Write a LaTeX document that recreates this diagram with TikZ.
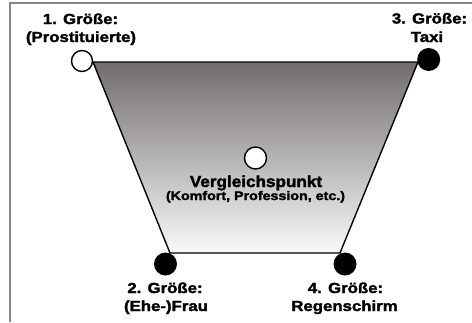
\documentclass[tikz,border=0pt]{standalone}
\usepackage{fontspec}
\setmainfont{Liberation Sans}[BoldFeatures={FakeStretch=1.15,FakeBold=2}]
\newfontfamily\titlefont{Liberation Sans}[UprightFont=*-Bold,UprightFeatures={FakeStretch=1.07,FakeBold=2}]
\begin{document}
\begin{tikzpicture}[x=1pt,y=-1pt,
  frameline/.style={draw=black!48,line width=2pt},
  edge/.style={draw=black,line width=1.4pt,line join=round},
  opendot/.style={circle,draw=black,fill=white,line width=1.4pt,inner sep=0pt,minimum size=21pt},
  fulldot/.style={circle,fill=black,inner sep=0pt,minimum size=23pt},
  lbl/.style={anchor=base,inner sep=0pt,font=\bfseries\fontsize{14.6}{17}\selectfont},
  title/.style={anchor=base,inner sep=0pt,font=\titlefont\fontsize{16}{18}\selectfont},
  subtitle/.style={anchor=base,inner sep=0pt,font=\bfseries\fontsize{12.4}{15}\selectfont}]
\useasboundingbox (0,0) rectangle (472,322);
% border along the top and left sides
\coordinate (fb) at (10,322);
\coordinate (fc) at (10,3);
\coordinate (fr) at (472,3);
\draw[frameline] (fb) -- (fc) -- (fr);
% trapezoid corners
\coordinate (tl) at (93,62);
\coordinate (tr) at (418,62);
\coordinate (br) at (340,253);
\coordinate (bl) at (170,253);
\shade[top color={rgb,255:red,114;green,109;blue,109},bottom color={rgb,255:red,249;green,249;blue,249}]
  (tl) -- (tr) -- (br) -- (bl) -- cycle;
\draw[edge] (tl) -- (tr) -- (br) -- (bl) -- cycle;
% vertices
\node[opendot] (g1) at (82,61) {};
\node[fulldot] (g3) at (428.7,59.5) {};
\node[fulldot] (g2) at (165.5,264) {};
\node[fulldot] (g4) at (345,264) {};
\node[opendot,minimum size=22pt] (vp) at (255.5,158) {};
% labels
\node[lbl] (l1a) at (80.5,24) {1. Größe:};
\node[lbl] (l1b) at (81,42) {(Prostituierte)};
\node[lbl] (l3a) at (429.5,23.5) {3. Größe:};
\node[lbl] (l3b) at (427,42) {Taxi};
\node[lbl] (l2a) at (165,293) {2. Größe:};
\node[lbl] (l2b) at (166,311) {(Ehe-)Frau};
\node[lbl] (l4a) at (345.5,293) {4. Größe:};
\node[lbl] (l4b) at (344.5,311) {Regenschirm};
\node[title] (vt) at (256,187) {Vergleichspunkt};
\node[subtitle] (vs) at (255.5,200) {(Komfort, Profession, etc.)};
\end{tikzpicture}
\end{document}
